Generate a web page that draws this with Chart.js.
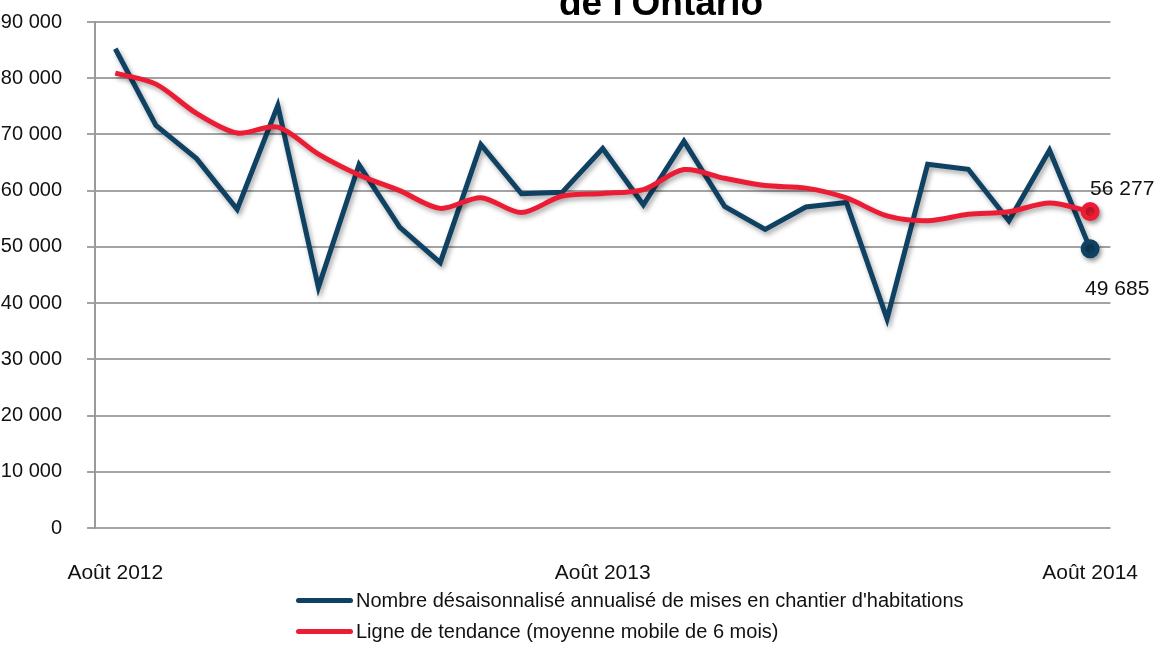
<!DOCTYPE html>
<html>
<head>
<meta charset="utf-8">
<script src="https://cdn.jsdelivr.net/npm/chart.js@4/dist/chart.umd.min.js"></script>
<style>
body{margin:0;background:#fff;font-family:"Liberation Sans",Arial,sans-serif}
#wrap{position:relative;width:1164px;height:645px;overflow:hidden}
#titre{position:absolute;left:559px;top:-18px;font-weight:bold;font-size:37px;color:#000;white-space:nowrap}
#legende{position:absolute;left:296px;top:585px;font-size:20px;color:#111}
.item{display:flex;align-items:center;height:31px}
.trait{width:57px;height:5px;border-radius:3px;margin-right:3px}
</style>
</head>
<body>
<div id="wrap">
<canvas id="graph" width="1164" height="645"></canvas>
<div id="titre">de l'Ontario</div>
<div id="legende"></div>
</div>
<script>
let mois=["Août 2012","Sept. 2012","Oct. 2012","Nov. 2012","Déc. 2012","Janv. 2013","Févr. 2013","Mars 2013","Avr. 2013","Mai 2013","Juin 2013","Juil. 2013",
"Août 2013","Sept. 2013","Oct. 2013","Nov. 2013","Déc. 2013","Janv. 2014","Févr. 2014","Mars 2014","Avr. 2014","Mai 2014","Juin 2014","Juil. 2014","Août 2014"]
let moisAffiches=["Août 2012","Août 2013","Août 2014"]

let mises=[85250,71600,65700,56700,75150,42800,64600,53500,47200,68200,59450,59700,67500,57500,68800,57200,53100,57100,57900,37200,64700,63800,54650,67200,49685]
let tendance=[80900,78950,73750,70250,71300,66500,62800,60000,56850,58750,56100,59050,59500,60200,63750,62200,60900,60450,58700,55500,54650,55800,56250,57800,56277]

let nomMises="Nombre désaisonnalisé annualisé de mises en chantier d'habitations"
let nomTendance="Ligne de tendance (moyenne mobile de 6 mois)"
let bleu="#0f4163"
let rouge="#ec1c34"
let police="'Liberation Sans', Arial"

function espace(v){
return v.toString().replace(/\B(?=(\d{3})+(?!\d))/g," ")
}

let ombre={
id:"ombre",
beforeDatasetsDraw(chart){
let c=chart.ctx
c.save()
c.shadowColor="rgba(0,0,0,0.35)"
c.shadowBlur=5
c.shadowOffsetX=2
c.shadowOffsetY=3
},
afterDatasetsDraw(chart){
chart.ctx.restore()
let c=chart.ctx
c.save()
c.font="21px "+police
c.fillStyle="#111"
c.textBaseline="middle"
c.textAlign="left"
let r=chart.getDatasetMeta(1).data[tendance.length-1]
c.fillText(espace(tendance[tendance.length-1]),r.x,r.y-22)
let b=chart.getDatasetMeta(0).data[mises.length-1]
c.fillText(espace(mises[mises.length-1]),b.x-5,b.y+41)
c.restore()
}
}

let dernier=ctx=>ctx.dataIndex==mois.length-1?7:0

new Chart(document.getElementById("graph"),{
type:"line",
data:{labels:mois,datasets:[
{label:nomMises,data:mises,borderColor:bleu,backgroundColor:bleu,borderWidth:5,tension:0,pointRadius:dernier,pointHoverRadius:dernier,order:2},
{label:nomTendance,data:tendance,borderColor:rouge,backgroundColor:rouge,borderWidth:5,tension:0.3,pointRadius:dernier,pointHoverRadius:dernier,order:1}
]},
options:{
responsive:false,
animation:false,
layout:{padding:{top:22,right:50,left:0,bottom:0}},
plugins:{legend:{display:false},tooltip:{enabled:false}},
scales:{
x:{
offset:true,
grid:{display:false},
border:{display:false},
afterFit:s=>{s.height=117;s.paddingTop=0;s.paddingBottom=0},
ticks:{autoSkip:false,maxRotation:0,padding:25,color:"#111",font:{size:21,family:police},
callback:function(v,i){let l=this.getLabelForValue(v);return moisAffiches.includes(l)?l:""}}
},
y:{
min:0,max:90000,
afterFit:s=>{s.width=95;s.paddingTop=0;s.paddingBottom=0},
grid:{color:"#a3a3a3",lineWidth:2,tickLength:8},
border:{color:"#9a9a9a",width:2},
ticks:{stepSize:10000,padding:25,color:"#111",font:{size:20,family:police},callback:v=>espace(v)}
}
}
},
plugins:[ombre]
})

let leg=document.getElementById("legende")
;[[nomMises,bleu],[nomTendance,rouge]].forEach(p=>{
let d=document.createElement("div")
d.className="item"
d.innerHTML='<span class="trait" style="background:'+p[1]+'"></span><span>'+p[0]+'</span>'
leg.appendChild(d)
})
</script>
</body>
</html>
